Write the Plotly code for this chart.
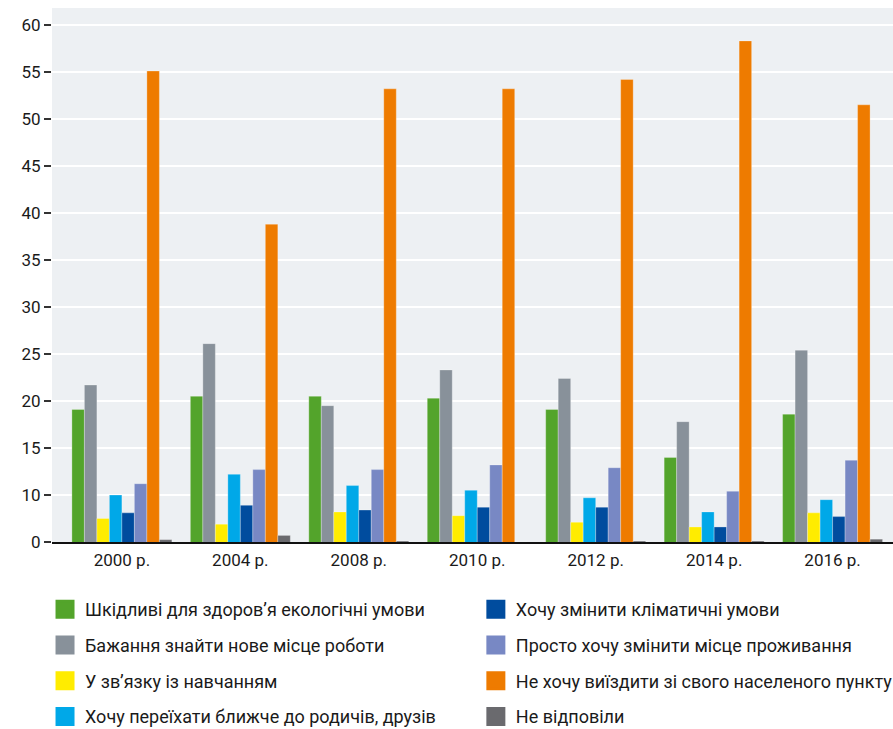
import plotly.graph_objects as go

years = ["2000 р.", "2004 р.", "2008 р.", "2010 р.", "2012 р.", "2014 р.", "2016 р."]

series_names = [
    "Шкідливі для здоров’я екологічні умови",
    "Бажання знайти нове місце роботи",
    "У зв’язку із навчанням",
    "Хочу переїхати ближче до родичів, друзів",
    "Хочу змінити кліматичні умови",
    "Просто хочу змінити місце проживання",
    "Не хочу виїздити зі свого населеного пункту",
    "Не відповіли",
]

ecology = [19.1, 20.5, 20.5, 20.3, 19.1, 14.0, 18.6]
new_job = [21.7, 26.1, 19.5, 23.3, 22.4, 17.8, 25.4]
study = [7.5, 6.9, 8.2, 7.8, 7.1, 6.6, 8.1]
relatives = [10.0, 12.2, 11.0, 10.5, 9.7, 8.2, 9.5]
climate = [8.1, 8.9, 8.4, 8.7, 8.7, 6.6, 7.7]
just_change = [11.2, 12.7, 12.7, 13.2, 12.9, 10.4, 13.7]
stay = [55.1, 38.8, 53.2, 53.2, 54.2, 58.3, 51.5]
no_answer = [5.25, 5.7, 5.1, 5.0, 5.1, 5.1, 5.3]

series_values = [ecology, new_job, study, relatives, climate, just_change, stay, no_answer]

colors = ["#53A42B", "#88919A", "#FFEC00", "#00A8E8", "#004C9E", "#7888C4", "#EE7B00", "#6A6A6E"]

tick_vals = [5, 10, 15, 20, 25, 30, 35, 40, 45, 50, 55, 60]
tick_text = ["0", "10", "15", "20", "25", "30", "35", "40", "45", "50", "55", "60"]

FONT = "Roboto, sans-serif"

fig = go.Figure()
for name, vals, col in zip(series_names, series_values, colors):
    fig.add_trace(go.Bar(
        x=years, y=vals, name=name,
        marker=dict(color=col, line=dict(color="rgba(255,255,255,0.35)", width=0.8)),
        showlegend=False,
    ))
for i, (name, col) in enumerate(zip(series_names, colors)):
    fig.add_trace(go.Scatter(
        x=[None], y=[None], mode="markers", name=name,
        marker=dict(symbol="square", size=16, color=col, line=dict(color=col, width=3)),
        legend="legend" if i < 4 else "legend2",
        legendgroup=f"g{i}",
        showlegend=True,
    ))

legend_common = dict(
    yanchor="top", xanchor="left", orientation="v", tracegroupgap=9.3,
    font=dict(size=18, family=FONT, color="#1a1a1a"),
    bgcolor="rgba(0,0,0,0)",
)

fig.update_layout(
    width=893, height=729,
    margin=dict(l=52, r=0, t=8, b=187, autoexpand=False),
    paper_bgcolor="white",
    plot_bgcolor="#EDF0F3",
    barmode="group",
    bargap=0.156,
    bargroupgap=0,
    font=dict(family=FONT, size=17, color="#1a1a1a"),
    xaxis=dict(
        type="category", range=[-0.59, 6.51],
        showgrid=False, showline=True, linecolor="#111", linewidth=2,
        ticks="outside", ticklen=2, tickcolor="rgba(0,0,0,0)",
        tickfont=dict(size=17, family=FONT), automargin=False,
    ),
    yaxis=dict(
        range=[5, 61.8], tickvals=tick_vals, ticktext=tick_text,
        showgrid=True, gridcolor="white", gridwidth=2,
        ticks="outside", ticklen=7, tickcolor="#333", tickwidth=1.5,
        zeroline=False, showline=False, automargin=False,
        tickfont=dict(size=17, family=FONT),
    ),
    legend=dict(x=-0.0083, y=-0.092, **legend_common),
    legend2=dict(x=0.504, y=-0.092, **legend_common),
)

fig.write_html(
    "out.html",
    config={"displayModeBar": False},
    post_script="document.body.style.margin='0';document.body.style.overflow='hidden';",
)
